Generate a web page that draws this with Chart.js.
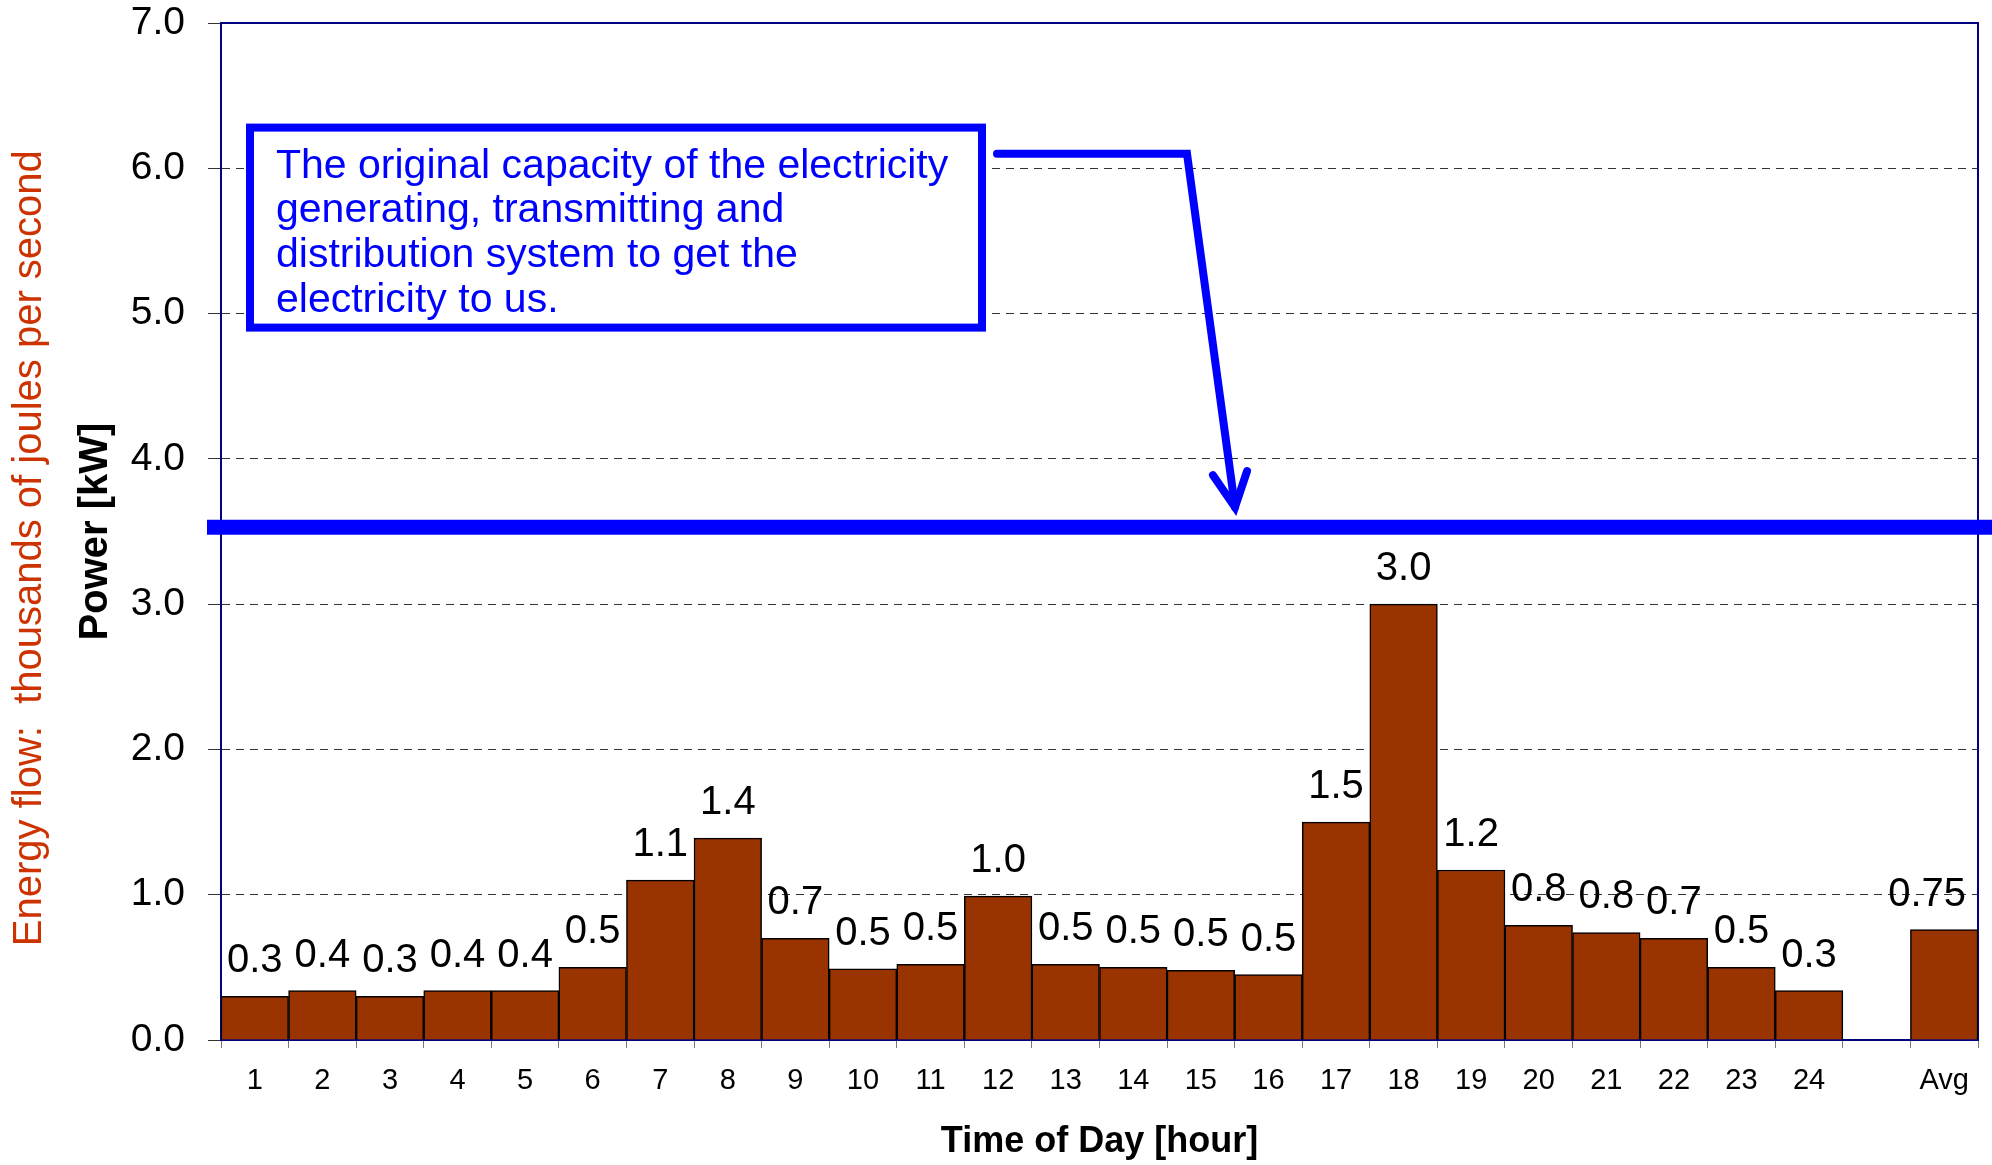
<!DOCTYPE html>
<html>
<head>
<meta charset="utf-8">
<title>Power by time of day</title>
<script src="https://cdn.jsdelivr.net/npm/chart.js@4/dist/chart.umd.min.js"></script>
<style>
  body { margin: 0; background: #fff; }
  #wrap { width: 1992px; height: 1165px; }
</style>
</head>
<body>
<div id="wrap"><canvas id="powerChart"></canvas></div>
<script>
// hours 1..24, an empty slot, then the daily average
const hours = ['1', '2', '3', '4', '5', '6', '7', '8', '9', '10', '11', '12',
  '13', '14', '15', '16', '17', '18', '19', '20', '21', '22', '23', '24', '', 'Avg'];

// bar heights in kW
const powerKW = [0.30, 0.34, 0.30, 0.34, 0.34, 0.50, 1.10, 1.39, 0.70, 0.49, 0.52, 0.99,
  0.52, 0.50, 0.48, 0.45, 1.50, 3.00, 1.17, 0.79, 0.74, 0.70, 0.50, 0.34, null, 0.76];

// the labels printed over the bars (rounded by hand in the original)
const valueLabels = ['0.3', '0.4', '0.3', '0.4', '0.4', '0.5', '1.1', '1.4', '0.7', '0.5', '0.5', '1.0',
  '0.5', '0.5', '0.5', '0.5', '1.5', '3.0', '1.2', '0.8', '0.8', '0.7', '0.5', '0.3', '', '0.75'];

const yTicks = [0, 1, 2, 3, 4, 5, 6, 7];

// original capacity of the supply system
const capacityKW = 3.53;

const noteLines = [
  'The original capacity of the electricity',
  'generating, transmitting and',
  'distribution system to get the',
  'electricity to us.'
];

const FONT = "'Liberation Sans', Arial, Helvetica, sans-serif";
Chart.defaults.font.family = FONT;
Chart.defaults.color = '#000';

// navy frame round the plot area
const plotFrame = {
  id: 'plotFrame',
  beforeDatasetsDraw(chart) {
    const { ctx, chartArea: a } = chart;
    ctx.save();
    ctx.strokeStyle = '#000080';
    ctx.lineWidth = 2;
    ctx.strokeRect(a.left, a.top, a.right - a.left, a.bottom - a.top);
    ctx.restore();
  }
};

// numbers above the bars
const barValues = {
  id: 'barValues',
  afterDatasetsDraw(chart) {
    const { ctx, chartArea } = chart;
    const meta = chart.getDatasetMeta(0);
    ctx.save();
    ctx.font = '40px ' + FONT;
    ctx.fillStyle = '#000';
    ctx.textAlign = 'center';
    ctx.textBaseline = 'alphabetic';
    meta.data.forEach((bar, i) => {
      const txt = valueLabels[i];
      if (!txt || powerKW[i] == null) return;
      const w = ctx.measureText(txt).width;
      const x = Math.min(bar.x, chartArea.right - 12 - w / 2);
      ctx.fillText(txt, x, bar.y - 24);
    });
    ctx.restore();
  }
};

// capacity line, the note box and the arrow
const capacityNote = {
  id: 'capacityNote',
  afterDraw(chart) {
    const { ctx, chartArea: a, scales: { y } } = chart;
    const capY = y.getPixelForValue(capacityKW);
    ctx.save();
    ctx.strokeStyle = '#0000ff';

    ctx.lineWidth = 15;
    ctx.beginPath();
    ctx.moveTo(a.left - 14, capY);
    ctx.lineTo(chart.width, capY);
    ctx.stroke();

    // note box
    const bx = a.left + 29, by = y.getPixelForValue(6.28), bw = 732, bh = 200;
    ctx.fillStyle = '#fff';
    ctx.fillRect(bx, by, bw, bh);
    ctx.lineWidth = 8;
    ctx.strokeRect(bx, by, bw, bh);

    ctx.fillStyle = '#0000ff';
    ctx.font = '41px ' + FONT;
    ctx.textAlign = 'left';
    ctx.textBaseline = 'alphabetic';
    noteLines.forEach((line, i) => {
      ctx.fillText(line, bx + 26, by + 50 + i * 44.7);
    });

    // arrow from the box down to the line
    const armY = y.getPixelForValue(6.1);
    const tipX = a.left + 1014, tipY = capY - 20;
    ctx.lineWidth = 8;
    ctx.lineCap = 'round';
    ctx.lineJoin = 'miter';
    ctx.beginPath();
    ctx.moveTo(a.left + 776, armY);
    ctx.lineTo(a.left + 966, armY);
    ctx.lineTo(tipX, tipY);
    ctx.stroke();

    ctx.beginPath();
    ctx.moveTo(tipX - 22, tipY - 32);
    ctx.lineTo(tipX, tipY);
    ctx.lineTo(tipX + 12, tipY - 36);
    ctx.stroke();
    ctx.restore();
  }
};

const ctx = document.getElementById('powerChart').getContext('2d');
const chart = new Chart(ctx, {
  type: 'bar',
  data: {
    labels: hours,
    datasets: [{
      label: 'Power (kW)',
      data: powerKW,
      backgroundColor: '#993300',
      borderColor: '#000',
      borderWidth: 1.5,
      barPercentage: 1,
      categoryPercentage: 1
    }]
  },
  options: {
    responsive: true,
    maintainAspectRatio: false,
    animation: false,
    layout: { padding: { top: 23, right: 14, bottom: 0, left: 0 } },
    plugins: {
      legend: { display: false },
      tooltip: { enabled: false }
    },
    scales: {
      x: {
        grid: {
          display: true,
          offset: true,
          drawOnChartArea: false,
          drawTicks: true,
          tickLength: 8,
          tickColor: '#777',
          tickWidth: 1
        },
        border: { display: true, color: '#000080', width: 2 },
        ticks: { font: { size: 29 }, padding: 16, maxRotation: 0, autoSkip: false },
        title: {
          display: true,
          text: 'Time of Day [hour]',
          font: { size: 36, weight: 'bold' },
          padding: { top: 0, bottom: 1 }
        },
        afterFit: s => { s.height = 125; }
      },
      y: {
        min: 0,
        max: 7,
        weight: 0,
        afterBuildTicks: s => { s.ticks = yTicks.map(v => ({ value: v })); },
        grid: {
          color: '#333',
          lineWidth: 1,
          drawTicks: true,
          tickLength: 13,
          tickColor: '#333',
          tickBorderDash: []
        },
        border: { display: true, color: '#000080', width: 2, dash: [8, 6] },
        ticks: {
          font: { size: 39 },
          padding: 23,
          callback: v => Number(v).toFixed(1)
        },
        title: {
          display: true,
          text: 'Power [kW]',
          font: { size: 40, weight: 'bold' },
          padding: { top: 12, bottom: 0 }
        },
        // fixed width; the top label may hang over the plot edge like the original
        afterFit: s => { s.width = 161; s.paddingTop = 0; s.paddingBottom = 0; }
      },
      y2: {
        type: 'linear',
        position: 'left',
        weight: 1,
        min: 0,
        max: 7,
        grid: { display: false, drawTicks: false },
        border: { display: false },
        ticks: { display: false },
        title: {
          display: true,
          // trailing spaces nudge the centred title down, as in the original
          text: 'Energy flow:  thousands of joules per second   ',
          color: '#cc3300',
          font: { size: 40 },
          padding: { top: 6, bottom: 0 }
        },
        afterFit: s => { s.width = 60; }
      }
    }
  },
  plugins: [plotFrame, barValues, capacityNote]
});
</script>
</body>
</html>
